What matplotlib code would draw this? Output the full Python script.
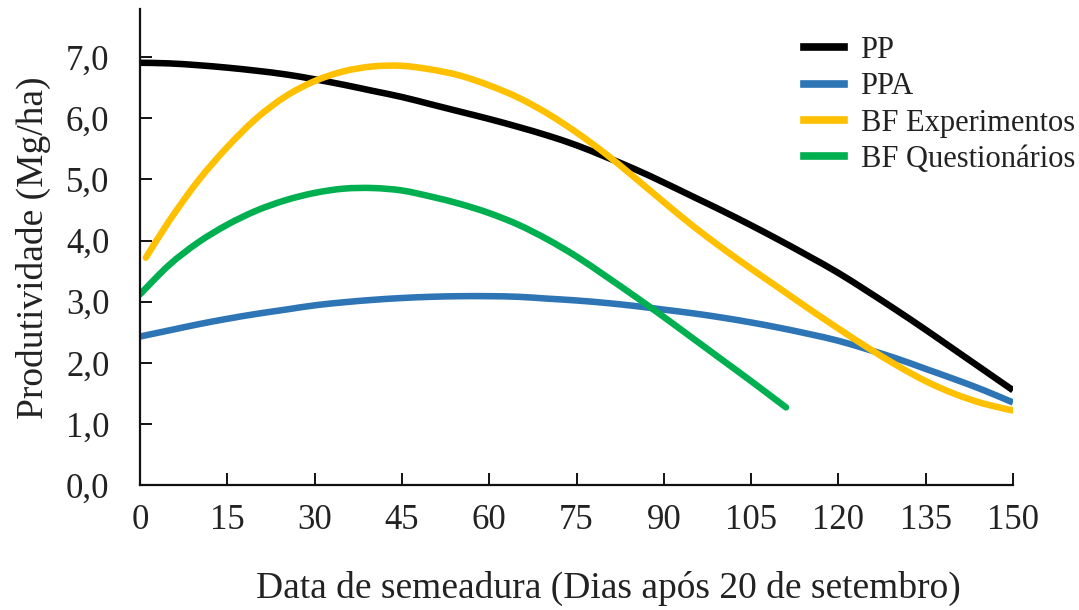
import matplotlib
matplotlib.use("Agg")
import matplotlib.pyplot as plt
from matplotlib.path import Path
from matplotlib.patches import PathPatch
from matplotlib.lines import Line2D

plt.rcParams['font.family'] = ['Liberation Serif', 'DejaVu Serif']

# Days after 20 September
days = [0, 5, 10, 15, 20, 25, 30, 35, 40, 45, 50, 55, 60, 65, 70, 75, 80, 85,
        90, 95, 100, 105, 110, 115, 120, 125, 130, 135, 140, 145, 150]

pp = [6.91, 6.90, 6.87, 6.83, 6.78, 6.72, 6.64, 6.55, 6.45, 6.35, 6.23, 6.11,
      5.99, 5.86, 5.72, 5.56, 5.37, 5.17, 4.95, 4.72, 4.49, 4.25, 4.00, 3.74,
      3.47, 3.17, 2.86, 2.54, 2.21, 1.88, 1.55]

ppa = [2.43, 2.53, 2.63, 2.72, 2.80, 2.87, 2.94, 2.99, 3.03, 3.06, 3.08, 3.09,
       3.09, 3.08, 3.05, 3.02, 2.98, 2.93, 2.87, 2.81, 2.74, 2.66, 2.57, 2.47,
       2.36, 2.22, 2.07, 1.90, 1.73, 1.55, 1.35]

bf_exp_days = [1, 5, 10, 15, 20, 25, 30, 35, 40, 45, 50, 55, 60, 65, 70, 75,
               80, 85, 90, 95, 100, 105, 110, 115, 120, 125, 130, 135, 140,
               145, 150]
bf_exp = [3.72, 4.32, 4.98, 5.53, 6.00, 6.36, 6.61, 6.77, 6.85, 6.86, 6.80,
          6.70, 6.54, 6.34, 6.08, 5.77, 5.42, 5.03, 4.63, 4.24, 3.88, 3.54,
          3.21, 2.88, 2.56, 2.25, 1.96, 1.70, 1.49, 1.33, 1.22]

bf_q_days = [0, 5, 10, 15, 20, 25, 30, 35, 40, 45, 50, 55, 60, 65, 70, 75, 80,
             85, 90, 95, 100, 105, 111]
bf_q = [3.12, 3.60, 3.97, 4.26, 4.49, 4.66, 4.78, 4.85, 4.86, 4.82, 4.72,
        4.60, 4.45, 4.26, 4.02, 3.74, 3.42, 3.09, 2.75, 2.40, 2.05, 1.70,
        1.27]

x_ticks = [0, 15, 30, 45, 60, 75, 90, 105, 120, 135, 150]
y_ticks = [0, 1, 2, 3, 4, 5, 6, 7]
y_tick_labels = ['0,0', '1,0', '2,0', '3,0', '4,0', '5,0', '6,0', '7,0']

series_names = ['PP', 'PPA', 'BF Experimentos', 'BF Questionários']
colors = ['#000000', '#2E75B6', '#FFC000', '#00B050']


def smooth_path(xs, ys):
    """Smoothed line (like a spreadsheet 'smoothed line') through the points,
    drawn as cubic Bezier segments (Catmull-Rom control points)."""
    n = len(xs)
    verts = [(xs[0], ys[0])]
    codes = [Path.MOVETO]
    for i in range(n - 1):
        x0, y0 = (xs[i - 1], ys[i - 1]) if i > 0 else (xs[i], ys[i])
        x1, y1 = xs[i], ys[i]
        x2, y2 = xs[i + 1], ys[i + 1]
        x3, y3 = (xs[i + 2], ys[i + 2]) if i + 2 < n else (x2, y2)
        c1 = (x1 + (x2 - x0) / 6.0, y1 + (y2 - y0) / 6.0)
        c2 = (x2 - (x3 - x1) / 6.0, y2 - (y3 - y1) / 6.0)
        verts += [c1, c2, (x2, y2)]
        codes += [Path.CURVE4, Path.CURVE4, Path.CURVE4]
    return Path(verts, codes)


fig = plt.figure(figsize=(10.79, 6.10), dpi=100)
ax = fig.add_axes([140 / 1079, 1 - 485 / 610, (1013 - 140) / 1079, (485 - 9) / 610])

lw = 4.7
all_series = [(days, pp), (days, ppa), (bf_exp_days, bf_exp), (bf_q_days, bf_q)]
caps = ['butt', 'butt', 'round', 'round']
for (xs, ys), c, cap in zip(all_series, colors, caps):
    patch = PathPatch(smooth_path(xs, ys), facecolor='none', edgecolor=c,
                      lw=lw, capstyle=cap, joinstyle='round')
    ax.add_patch(patch)

ax.set_xlim(0, 150)
ax.set_ylim(0, 7.79)
ax.set_xticks(x_ticks)
ax.set_xticklabels([str(v) for v in x_ticks])
ax.set_yticks(y_ticks)
ax.set_yticklabels(y_tick_labels)

for s in ['top', 'right']:
    ax.spines[s].set_visible(False)
for s in ['left', 'bottom']:
    ax.spines[s].set_linewidth(1.6)
    ax.spines[s].set_color('#111111')

ax.tick_params(axis='both', direction='in', length=8.5, width=1.4,
               labelsize=25, colors='#111111', labelcolor='#222222')
ax.tick_params(axis='y', pad=22)
ax.tick_params(axis='x', pad=14)

ax.set_xlabel('Data de semeadura (Dias após 20 de setembro)', fontsize=27,
              color='#222222')
ax.xaxis.label.set_va('center')
ax.xaxis.set_label_coords((608 - 140) / 873, (485 - 588) / 476)
ax.set_ylabel('Produtividade (Mg/ha)', fontsize=27, color='#222222')
ax.yaxis.label.set_va('center')
ax.yaxis.set_label_coords((33 - 140) / 873, (485 - 248) / 476)

handles = [Line2D([0], [0], color=c, lw=5.5) for c in colors]
leg = ax.legend(handles, series_names, loc='upper left',
                bbox_to_anchor=(804 / 1079, 1 - 36 / 610),
                bbox_transform=fig.transFigure, frameon=False, fontsize=22,
                handlelength=1.3, handletextpad=0.55, labelspacing=0.24,
                borderpad=0, borderaxespad=0)
for t in leg.get_texts():
    t.set_color('#222222')

fig.savefig('out.png', dpi=100)
